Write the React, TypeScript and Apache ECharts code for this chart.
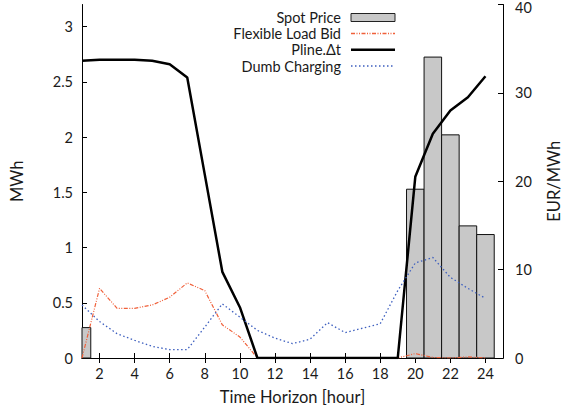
import React, { useEffect, useRef } from "react";
import * as echarts from "echarts";

const hours = [1, 2, 3, 4, 5, 6, 7, 8, 9, 10, 11, 12, 13, 14, 15, 16, 17, 18, 19, 20, 21, 22, 23, 24];
const spotPrice = [3.44, 0, 0, 0, 0, 0, 0, 0, 0, 0, 0, 0, 0, 0, 0, 0, 0, 0, 0, 19.1, 34.05, 25.25, 14.95, 13.97];
const flexibleLoadBid = [0, 0.63, 0.45, 0.45, 0.48, 0.55, 0.68, 0.61, 0.3, 0.19, 0, 0, 0, 0, 0, 0, 0, 0, 0, 0.04, 0.005, 0, 0.01, 0];
const pline = [2.69, 2.7, 2.7, 2.7, 2.69, 2.66, 2.54, 1.66, 0.78, 0.46, 0, 0, 0, 0, 0, 0, 0, 0, 0, 1.64, 2.03, 2.24, 2.36, 2.55];
const dumbCharging = [0.48, 0.33, 0.22, 0.16, 0.106, 0.076, 0.076, 0.28, 0.49, 0.37, 0.25, 0.18, 0.13, 0.17, 0.32, 0.23, 0.27, 0.31, 0.61, 0.86, 0.91, 0.73, 0.63, 0.54];
const xTicks = [2, 4, 6, 8, 10, 12, 14, 16, 18, 20, 22, 24];
const yLeftTicks = [0, 0.5, 1, 1.5, 2, 2.5, 3];
const legendNames = ["Spot Price", "Flexible Load Bid", "Pline.Δt", "Dumb Charging"];

const FONT = "Lato";
const TXT = "#1a1a1a";
const RED = "#f0603a";
const BLUE = "#3d5fbf";
const BAR = "#c8c8c8";
const RED_DASH = [4, 1.5, 1, 1.5, 1, 1.5];
const BLUE_DASH = [1.5, 2.5];

export default function App() {
  const ref = useRef<HTMLDivElement>(null);
  useEffect(() => {
    if (!ref.current) return;
    const chart = echarts.init(ref.current, null, { renderer: "svg" });
    const pair = (arr: number[]) => hours.map((h, i) => [h, arr[i]]);
    const axisLine = { show: true, lineStyle: { color: "#000", width: 1 } };
    const tickStyle = { fontFamily: FONT, fontSize: 14.5, color: TXT };
    const nameStyle = { fontFamily: FONT, fontSize: 16.5, color: TXT };

    // legend drawn with graphic elements
    const lx0 = 351;
    const lx1 = 395;
    const rows = [17.5, 33.5, 49.8, 66];
    const legendGraphics: any[] = [];
    legendNames.forEach((name, i) => {
      legendGraphics.push({
        type: "text",
        x: 341,
        y: rows[i],
        style: { text: name, align: "right", verticalAlign: "middle", font: `14.5px ${FONT}`, fill: TXT },
      });
    });
    legendGraphics.push({
      type: "rect",
      shape: { x: lx0, y: rows[0] - 4, width: lx1 - lx0, height: 8 },
      style: { fill: BAR, stroke: "#222", lineWidth: 1 },
    });
    legendGraphics.push({
      type: "line",
      shape: { x1: lx0, y1: rows[1], x2: lx1, y2: rows[1] },
      style: { stroke: RED, lineWidth: 1.4, lineDash: RED_DASH },
    });
    legendGraphics.push({
      type: "line",
      shape: { x1: lx0, y1: rows[2], x2: lx1, y2: rows[2] },
      style: { stroke: "#000", lineWidth: 2.5 },
    });
    legendGraphics.push({
      type: "line",
      shape: { x1: lx0, y1: rows[3], x2: lx1, y2: rows[3] },
      style: { stroke: BLUE, lineWidth: 1.4, lineDash: BLUE_DASH },
    });

    chart.setOption({
      animation: false,
      textStyle: { fontFamily: FONT },
      grid: { left: 82, right: 59, top: 4.5, bottom: 56, containLabel: false, outerBoundsMode: "none" },
      graphic: legendGraphics,
      xAxis: [
        {
          type: "value",
          min: 1,
          max: 25,
          position: "bottom",
          axisLine,
          axisTick: { show: true, inside: true, length: 5, customValues: xTicks, lineStyle: { color: "#000" } },
          axisLabel: { ...tickStyle, customValues: xTicks, margin: 8 },
          splitLine: { show: false },
          name: "Time Horizon [hour]",
          nameLocation: "middle",
          nameGap: 30,
          nameTextStyle: nameStyle,
        },
        {
          type: "value",
          min: 1,
          max: 25,
          position: "top",
          axisLine,
          axisTick: { show: true, inside: true, length: 5, customValues: xTicks, lineStyle: { color: "#000" } },
          axisLabel: { show: false },
          splitLine: { show: false },
        },
      ],
      yAxis: [
        {
          type: "value",
          min: 0,
          max: 3.2,
          position: "left",
          axisLine,
          axisTick: { show: true, inside: true, length: 5, customValues: yLeftTicks, lineStyle: { color: "#000" } },
          axisLabel: { ...tickStyle, customValues: yLeftTicks, margin: 9, formatter: (v: number) => String(v) },
          splitLine: { show: false },
          name: "MWh",
          nameLocation: "middle",
          nameGap: 57,
          nameTextStyle: nameStyle,
        },
        {
          type: "value",
          min: 0,
          max: 40,
          interval: 10,
          position: "right",
          axisLine,
          axisTick: { show: true, inside: true, length: 5, lineStyle: { color: "#000" } },
          axisLabel: {
            ...tickStyle,
            margin: 12,
            formatter: (v: number) => (v === 40 ? "{top|" + v + "}" : String(v)),
            rich: { top: { ...tickStyle, padding: [5, 0, 0, 0] } },
          },
          splitLine: { show: false },
          name: "EUR/MWh",
          nameLocation: "middle",
          nameGap: 42,
          nameTextStyle: nameStyle,
        },
      ],
      series: [
        {
          name: "Spot Price",
          type: "custom",
          xAxisIndex: 0,
          yAxisIndex: 1,
          renderItem: (params: any, api: any) => {
            const x = api.value(0);
            const y = api.value(1);
            if (!y) return null;
            const p0 = api.coord([x - 0.5, 0]);
            const p1 = api.coord([x + 0.5, y]);
            const cs = params.coordSys;
            const rect = echarts.graphic.clipRectByRect(
              { x: p0[0], y: p1[1], width: p1[0] - p0[0], height: p0[1] - p1[1] },
              { x: cs.x, y: cs.y, width: cs.width, height: cs.height }
            );
            if (!rect) return null;
            return { type: "rect", shape: rect, style: { fill: BAR, stroke: "#111", lineWidth: 1 } };
          },
          encode: { x: 0, y: 1 },
          data: pair(spotPrice),
        },
        {
          name: "Flexible Load Bid",
          type: "line",
          xAxisIndex: 0,
          yAxisIndex: 0,
          symbol: "none",
          lineStyle: { color: RED, width: 1.2, type: RED_DASH },
          data: pair(flexibleLoadBid),
        },
        {
          name: "Pline.Δt",
          type: "line",
          xAxisIndex: 0,
          yAxisIndex: 0,
          symbol: "none",
          lineStyle: { color: "#000", width: 2.5 },
          data: pair(pline),
        },
        {
          name: "Dumb Charging",
          type: "line",
          xAxisIndex: 0,
          yAxisIndex: 0,
          symbol: "none",
          lineStyle: { color: BLUE, width: 1.3, type: BLUE_DASH },
          data: pair(dumbCharging),
        },
      ],
    });
    return () => chart.dispose();
  }, []);
  return <div ref={ref} style={{ position: "fixed", left: 0, top: 0, width: 562, height: 414, background: "#fff" }} />;
}
